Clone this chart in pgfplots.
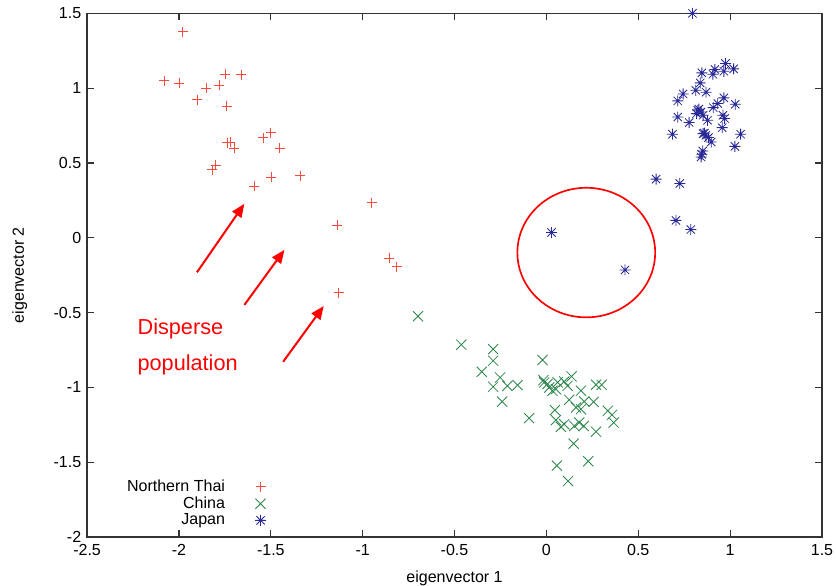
\documentclass[border=0pt]{standalone}
\usepackage{fontspec}
\setmainfont{Liberation Sans}
\usepackage{pgfplots}
\pgfplotsset{compat=1.18}
\usetikzlibrary{arrows.meta}

\definecolor{thai}{RGB}{245,75,60}
\definecolor{china}{RGB}{45,135,75}
\definecolor{japan}{RGB}{40,40,150}

% gnuplot-style star: plus and cross on top of each other
\pgfdeclareplotmark{gpstar}{%
  \pgfpathmoveto{\pgfqpoint{-\pgfplotmarksize}{0pt}}%
  \pgfpathlineto{\pgfqpoint{\pgfplotmarksize}{0pt}}%
  \pgfpathmoveto{\pgfqpoint{0pt}{-\pgfplotmarksize}}%
  \pgfpathlineto{\pgfqpoint{0pt}{\pgfplotmarksize}}%
  \pgfpathmoveto{\pgfqpoint{-0.75\pgfplotmarksize}{-0.75\pgfplotmarksize}}%
  \pgfpathlineto{\pgfqpoint{0.75\pgfplotmarksize}{0.75\pgfplotmarksize}}%
  \pgfpathmoveto{\pgfqpoint{-0.75\pgfplotmarksize}{0.75\pgfplotmarksize}}%
  \pgfpathlineto{\pgfqpoint{0.75\pgfplotmarksize}{-0.75\pgfplotmarksize}}%
  \pgfusepathqstroke
  \pgfpathcircle{\pgfpointorigin}{0.6pt}\pgfusepathqfill}

\begin{document}
\begin{tikzpicture}
\begin{axis}[
  scale only axis, width=440.4pt, height=313.8pt,
  xmin=-2.5, xmax=1.5, ymin=-2, ymax=1.5,
  xtick={-2.5,-2,...,1.5}, ytick={-2,-1.5,...,1.5},
  tick align=inside, major tick length=4pt,
  axis line style={black!80, line width=0.8pt},
  tick style={black!80, line width=0.7pt},
  /pgf/number format/assume math mode=true,
  ticklabel style={font=\fontsize{9.6}{11}\selectfont},
  xticklabel style={yshift=-1pt},
  label style={font=\fontsize{9.6}{11}\selectfont},
  xlabel={eigenvector 1}, ylabel={eigenvector 2},
  xlabel style={yshift=-2pt},
  ylabel style={yshift=9pt},
  clip=false,
  legend plot pos=right,
  legend cell align=right,
  legend style={draw=none, fill=none, at={(axis cs:-1.515,-1.97)}, anchor=south east,
    font=\fontsize{9.6}{11}\selectfont, row sep=-2.3pt, inner sep=1pt,
    /tikz/every odd column/.append style={column sep=16pt}},
]
\addplot[only marks, mark=+, mark size=3pt, thai, line width=0.5pt] coordinates {
(-1.98,1.377) (-2.079,1.049) (-2.0,1.033) (-1.851,1.0) (-1.78,1.018)
(-1.749,1.093) (-1.66,1.091) (-1.90,0.924) (-1.74,0.879) (-1.738,0.636)
(-1.72,0.64) (-1.70,0.60) (-1.542,0.67) (-1.50,0.703) (-1.451,0.60)
(-1.80,0.486) (-1.819,0.455) (-1.498,0.404) (-1.589,0.343) (-1.339,0.415)
(-0.95,0.234) (-1.14,0.084) (-0.855,-0.137) (-0.815,-0.193) (-1.131,-0.367)
};
\addlegendentry{Northern Thai}
\addplot[only marks, mark=x, mark size=4.3pt, china, line width=0.5pt] coordinates {
(-0.699,-0.525) (-0.463,-0.715) (-0.290,-0.744) (-0.290,-0.822) (-0.352,-0.896)
(-0.252,-0.934) (-0.290,-0.996) (-0.212,-0.990) (-0.157,-0.985) (-0.241,-1.095)
(-0.094,-1.206) (-0.021,-0.817) (-0.016,-0.952) (-0.012,-0.967) (0.015,-1.001)
(0.052,-1.012) (0.061,-0.967) (0.097,-0.961) (0.137,-0.927) (0.188,-1.022)
(0.124,-1.083) (0.206,-1.095) (0.257,-1.097) (0.270,-0.983) (0.301,-0.983)
(0.188,-1.146) (0.046,-1.152) (0.334,-1.157) (0.357,-1.184) (0.366,-1.235)
(0.052,-1.219) (0.097,-1.246) (0.079,-1.264) (0.152,-1.258) (0.179,-1.235)
(0.203,-1.258) (0.270,-1.296) (0.148,-1.376) (0.228,-1.494) (0.057,-1.523)
(0.118,-1.626) (0.006,-0.978) (0.033,-1.023) (0.115,-0.990) (0.161,-1.135)
};
\addlegendentry{China}
\addplot[only marks, mark=gpstar, mark size=3.3pt, japan, line width=0.5pt] coordinates {
(0.028,0.035) (0.428,-0.215)
(0.795,1.5) (0.975,1.165) (1.019,1.129) (0.966,1.113) (0.917,1.125)
(0.906,1.093) (0.846,1.102) (0.837,1.035) (0.813,0.986) (0.869,0.973)
(0.744,0.961) (0.715,0.915) (0.966,0.935) (0.933,0.897) (0.908,0.870)
(1.028,0.892) (0.824,0.852) (0.842,0.841) (0.817,0.830) (0.853,0.819)
(0.961,0.819) (0.970,0.797) (0.715,0.807) (0.777,0.770) (0.877,0.785)
(0.957,0.736) (0.686,0.692) (1.057,0.692) (0.853,0.696) (0.868,0.685)
(0.882,0.670) (0.897,0.640) (1.026,0.611) (0.851,0.580) (0.846,0.558)
(0.842,0.540) (0.597,0.392) (0.726,0.363) (0.705,0.116) (0.786,0.055)
(0.830,0.860) (0.860,0.700)
};
\addlegendentry{Japan}

% annotations
\draw[red, line width=1pt] (axis cs:0.217,-0.099) ellipse [x radius=0.375, y radius=0.433];
\draw[red, line width=1.2pt, -{Triangle[length=8pt,width=6.5pt]}] (axis cs:-1.902,-0.231) -- (axis cs:-1.644,0.227);
\draw[red, line width=1.2pt, -{Triangle[length=8pt,width=6.5pt]}] (axis cs:-1.644,-0.449) -- (axis cs:-1.426,-0.081);
\draw[red, line width=1.2pt, -{Triangle[length=8pt,width=6.5pt]}] (axis cs:-1.433,-0.829) -- (axis cs:-1.212,-0.456);
\node[red, anchor=west, inner sep=0pt, font=\fontsize{13}{15}\selectfont] at (axis cs:-2.227,-0.608) {Disperse};
\node[red, anchor=west, inner sep=0pt, font=\fontsize{13}{15}\selectfont] at (axis cs:-2.227,-0.849) {population};
\end{axis}
\pgfresetboundingbox
\path ([xshift=-52.2pt,yshift=-28.8pt]current axis.south west) rectangle ([xshift=8.4pt,yshift=8pt]current axis.north east);
\end{tikzpicture}
\end{document}
